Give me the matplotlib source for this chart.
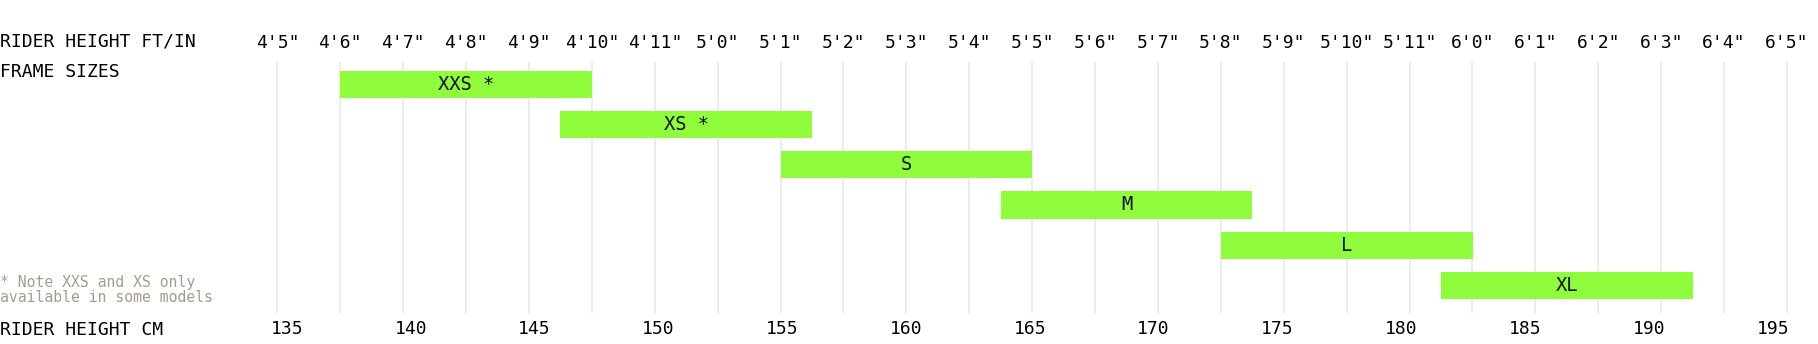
import matplotlib
matplotlib.use('Agg')
import matplotlib.pyplot as plt
import numpy as np

# frame sizes, rider height ranges in inches
SIZES      = ['XXS *', 'XS *', 'S', 'M', 'L', 'XL']
MIN_HEIGHT = [54.0, 57.5, 61.0, 64.5, 68.0, 71.5]
MAX_HEIGHT = [58.0, 61.5, 65.0, 68.5, 72.0, 75.5]

INCH_TICKS = list(range(53, 78))          # 4'5" .. 6'5"
CM_TICKS   = list(range(135, 196, 5))

BAR_COLOR  = '#8ffd3c'
GRID_COLOR = '#ebebeb'
NOTE_COLOR = '#a39e8c'
MONO       = 'DejaVu Sans Mono'

W, H = 1818, 344

def ft_in(i):
    return f"{i // 12}'{i % 12}\""

fig = plt.figure(figsize=(W / 100, H / 100), dpi=100, facecolor='white')

# axes spans the gridline region, full width
top_px, bot_px = 62, 313
ax = fig.add_axes([0, 1 - bot_px / H, 1, (bot_px - top_px) / H])

px_per_in = 62.9
x0_in = 53 - 277.4 / px_per_in
x1_in = x0_in + W / px_per_in
ax.set_xlim(x0_in, x1_in)

row_h = 40.3
first_c = 84.1
ax.set_ylim((bot_px - first_c) / row_h, (top_px - first_c) / row_h)

y = np.arange(len(SIZES))
widths = np.array(MAX_HEIGHT) - np.array(MIN_HEIGHT)
ax.barh(y, widths, left=MIN_HEIGHT, height=0.67, color=BAR_COLOR, zorder=2)
for yi, lo, hi, name in zip(y, MIN_HEIGHT, MAX_HEIGHT, SIZES):
    ax.text((lo + hi) / 2, yi, name, ha='center', va='center',
            fontsize=13.5, family=MONO, color='#111111', zorder=3)

ax.set_xticks(INCH_TICKS)
ax.set_xticklabels([ft_in(i) for i in INCH_TICKS], family=MONO, fontsize=13)
ax.xaxis.tick_top()
ax.tick_params(axis='x', length=0, pad=7)
ax.set_yticks([])
ax.grid(axis='x', color=GRID_COLOR, linewidth=1.3, zorder=0)
ax.set_axisbelow(True)
for s in ax.spines.values():
    s.set_visible(False)

sec = ax.secondary_xaxis('bottom', functions=(lambda v: v * 2.54,
                                              lambda v: v / 2.54))
sec.set_xticks(CM_TICKS)
sec.set_xticklabels([str(c) for c in CM_TICKS], family=MONO, fontsize=13)
sec.tick_params(length=0, pad=5)
for s in sec.spines.values():
    s.set_visible(False)

fig.text(0.0, 1 - 41 / H, 'RIDER HEIGHT FT/IN', ha='left', va='center',
         family=MONO, fontsize=13)
fig.text(0.0, 1 - 72 / H, 'FRAME SIZES', ha='left', va='center',
         family=MONO, fontsize=13)
fig.text(0.0, 1 - 330 / H, 'RIDER HEIGHT CM', ha='left', va='center',
         family=MONO, fontsize=13)
fig.text(0.0, 1 - 289.5 / H, '* Note XXS and XS only\navailable in some models',
         ha='left', va='center', family=MONO, fontsize=10.6,
         color=NOTE_COLOR, linespacing=1.0)

fig.savefig('out.png', dpi=100, facecolor='white')
